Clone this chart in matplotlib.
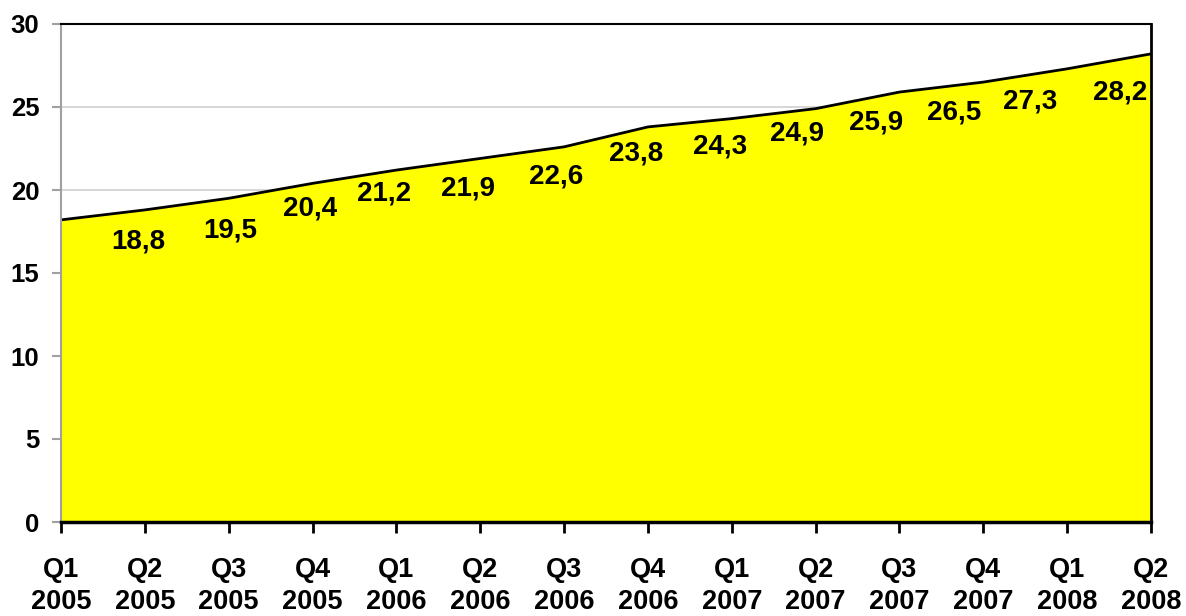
import matplotlib
matplotlib.use("Agg")
import matplotlib.pyplot as plt

quarters = ["Q1", "Q2", "Q3", "Q4", "Q1", "Q2", "Q3", "Q4", "Q1", "Q2", "Q3", "Q4", "Q1", "Q2"]
years = ["2005", "2005", "2005", "2005", "2006", "2006", "2006", "2006",
         "2007", "2007", "2007", "2007", "2008", "2008"]
values = [18.2, 18.8, 19.5, 20.4, 21.2, 21.9, 22.6, 23.8, 24.3, 24.9, 25.9, 26.5, 27.3, 28.2]
labels = [None, "18,8", "19,5", "20,4", "21,2", "21,9", "22,6", "23,8",
          "24,3", "24,9", "25,9", "26,5", "27,3", "28,2"]
# label offsets in pixels (dx, dy) relative to each point
label_dx = [0, -7, 2, -2, -12, -12, -8, -12, -12, -19, -23, -29, -37, -31]
label_dy = [0, -32, -32, -25, -23, -30, -30, -27, -28, -25, -30, -30, -33, -39]

plt.rcParams['font.family'] = ['Liberation Sans', 'DejaVu Sans']
plt.rcParams['font.weight'] = 'bold'

fig = plt.figure(figsize=(11.86, 6.16), dpi=100)
ax = fig.add_axes([61 / 1186, 1 - 522 / 616, (1151 - 61) / 1186, (522 - 24) / 616])

x = list(range(len(values)))
ax.fill_between(x, values, 0, color="#FFFF00", zorder=2, linewidth=0)
ax.plot(x, values, color="black", linewidth=2, zorder=3, solid_joinstyle="round")

for xi, v, lab, dx, dy in zip(x, values, labels, label_dx, label_dy):
    if lab is None:
        continue
    ax.annotate(lab, (xi, v), xytext=(dx * 0.72, dy * 0.72), textcoords="offset points",
                ha="center", va="center", fontsize=20, fontweight="bold", color="black", zorder=4)

ax.set_xlim(0, len(values) - 1)
ax.set_ylim(0, 30)
ax.set_yticks(range(0, 31, 5))
ax.set_xticks(x)
ax.set_xticklabels([f"{q}\n{y}" for q, y in zip(quarters, years)], fontsize=19.5,
                   fontweight="bold", linespacing=1.3)
ax.tick_params(axis="x", direction="out", length=8, width=2, color="black", pad=17)
ax.tick_params(axis="y", direction="out", length=6.5, width=1.5, color="#a0a0a0", pad=9,
               labelsize=18.5)
for t in ax.get_yticklabels():
    t.set_fontweight("bold")

ax.yaxis.grid(True, color="#d0d0d0", linewidth=1.2, zorder=0)
ax.set_axisbelow(True)

ax.spines["left"].set_color("#a0a0a0")
ax.spines["left"].set_linewidth(1.5)
ax.spines["top"].set_color("black")
ax.spines["top"].set_linewidth(1.5)
ax.spines["right"].set_color("black")
ax.spines["right"].set_linewidth(2)
ax.spines["bottom"].set_color("black")
ax.spines["bottom"].set_linewidth(2.5)
for s in ax.spines.values():
    s.set_zorder(5)

fig.savefig("out.png", dpi=100)
